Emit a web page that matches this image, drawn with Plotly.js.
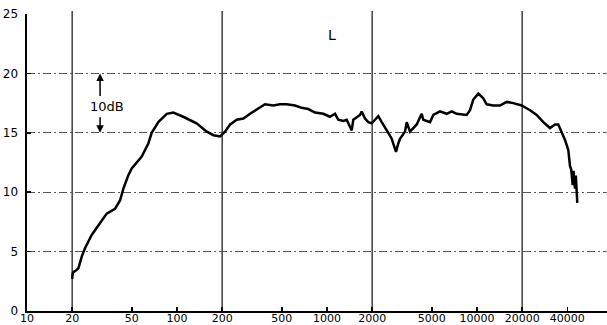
<!DOCTYPE html>
<html>
<head>
<meta charset="utf-8">
<script src="https://cdn.plot.ly/plotly-3.0.1.min.js"></script>
<style>html,body{margin:0;padding:0;background:#fff;}#chart{width:607px;height:325px;}</style>
</head>
<body>
<div id="chart"></div>
<script>
const freq = [20.0,20.2,20.5,21.2,22.0,23.2,24.4,27.0,30.7,34.0,38.6,41.7,43.9,47.3,49.9,58.2,64.4,67.8,75.1,85.4,94.5,110,135,158,175,194,209,226,250,277,307,348,386,439,486,539,612,678,750,832,945,1047,1131,1189,1284,1353,1423,1461,1497,1578,1660,1703,1792,1885,1986,2089,2198,2316,2436,2563,2700,2840,2884,2988,3067,3311,3400,3575,3963,4279,4385,4862,5113,5666,6281,6781,7321,8537,8983,9447,10200,11015,11606,12845,14234,15776,17458,19861,22555,25000,27670,30670,33113,34834,36700,38610,40620,41690,42500,43450,44000,45010,45600,46200,46630];
const level = [2.7,3.2,3.3,3.4,3.6,4.6,5.3,6.4,7.4,8.2,8.6,9.3,10.3,11.4,12.0,13.0,14.1,15.0,15.9,16.6,16.7,16.35,15.8,15.1,14.8,14.7,15.1,15.7,16.1,16.2,16.6,17.0,17.4,17.3,17.4,17.4,17.3,17.1,17.0,16.7,16.6,16.35,16.6,16.1,16.0,16.1,15.5,15.2,16.1,16.3,16.5,16.8,16.2,15.9,15.8,16.1,16.4,15.9,15.5,15.0,14.5,13.7,13.4,14.1,14.5,15.1,15.9,15.1,15.7,16.6,16.1,15.9,16.5,16.8,16.6,16.8,16.6,16.5,16.9,17.8,18.3,17.9,17.4,17.3,17.3,17.6,17.5,17.3,16.9,16.5,15.9,15.4,15.7,15.7,15.1,14.4,13.55,12.2,11.9,10.6,11.8,10.3,11.4,9.9,9.1];
const xTickVals = [10,20,50,100,200,500,1000,2000,5000,10000,20000,40000];
const xTickText = ["10","20","50","100","200","500","1000","2000","5000","10000","20000","40000"];
const yTickVals = [0,5,10,15,20,25];
const majorGrid = [20,200,2000,20000];

const font = "DejaVu Sans, Liberation Sans, sans-serif";

const shapes = majorGrid.map(f => ({
  type: 'line', xref: 'x', yref: 'paper', x0: f, x1: f, y0: 0, y1: 1.01,
  line: {color: '#111', width: 1.2}, layer: 'below'
}));

const annotations = [
  {xref:'x', yref:'y', x: Math.log10(1080), y: 23.2, text: 'L', showarrow: false,
   font: {family: font, size: 14, color: '#000'}},
  {xref:'x', yref:'y', x: Math.log10(34), y: 17.2, text: '10dB', showarrow: false,
   font: {family: font, size: 13, color: '#000'}},
  {xref:'x', yref:'y', x: Math.log10(30.7), y: 20, text: '', showarrow: true,
   ax: 0, ay: 24, arrowhead: 2, arrowsize: 1, arrowwidth: 1.5, arrowcolor: '#000'},
  {xref:'x', yref:'y', x: Math.log10(30.7), y: 15, text: '', showarrow: true,
   ax: 0, ay: -17, arrowhead: 2, arrowsize: 1, arrowwidth: 1.5, arrowcolor: '#000'}
];

const trace = {
  x: freq, y: level, type: 'scatter', mode: 'lines',
  line: {color: '#000', width: 2.5, shape: 'linear'},
  hoverinfo: 'skip'
};

const layout = {
  width: 607, height: 325,
  margin: {l: 27, r: 0, t: 14, b: 14, pad: 0},
  paper_bgcolor: '#fff', plot_bgcolor: '#fff',
  showlegend: false,
  xaxis: {
    type: 'log', range: [1, 4.8667], tickmode: 'array',
    tickvals: xTickVals, ticktext: xTickText,
    showgrid: false, zeroline: false,
    showline: true, linecolor: '#000', linewidth: 2,
    ticks: 'inside', ticklen: 4, tickwidth: 1.5, tickcolor: '#000',
    ticklabelstandoff: -4,
    tickfont: {family: font, size: 11, color: '#000'},
    fixedrange: true
  },
  yaxis: {
    range: [0, 25], tickmode: 'array', tickvals: yTickVals,
    showgrid: true, gridcolor: '#555', gridwidth: 1, griddash: '8px,3px,2px,3px',
    zeroline: false,
    showline: true, linecolor: '#000', linewidth: 2.5,
    ticks: 'inside', ticklen: 4, tickwidth: 1.5, tickcolor: '#000',
    ticklabelstandoff: 4,
    tickfont: {family: font, size: 12, color: '#000'},
    fixedrange: true
  },
  shapes: shapes,
  annotations: annotations
};

Plotly.newPlot('chart', [trace], layout, {displayModeBar: false, staticPlot: true});
</script>
</body>
</html>
